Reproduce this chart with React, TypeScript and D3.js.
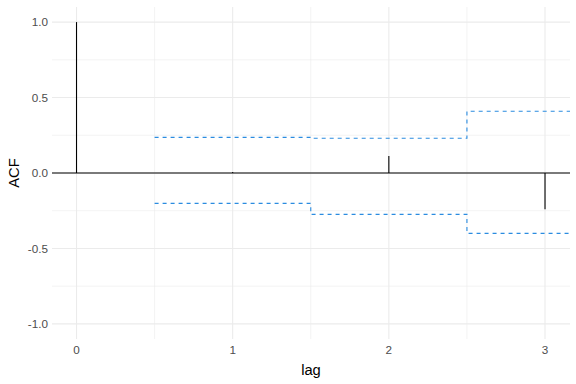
import React from "react";
import * as d3 from "d3";

const lags = [0, 1, 2, 3];
const acfValues = [1.0, 0.006, 0.113, -0.241];
const bandStarts = [0.5, 1.5, 2.5];
const bandEnds = [1.5, 2.5, 3.16];
const upperBand = [0.236, 0.23, 0.409];
const lowerBand = [-0.201, -0.274, -0.4];
const yTicks = [-1.0, -0.5, 0.0, 0.5, 1.0];
const yMinor = [-0.75, -0.25, 0.25, 0.75];
const xTicks = [0, 1, 2, 3];
const xMinor = [0.5, 1.5, 2.5];

const W = 576;
const H = 384;
const left = 52;
const right = 570;
const top = 7;
const bottom = 339;

export default function App() {
  const x = d3.scaleLinear().domain([-0.157, 3.16]).range([left, right]);
  const y = d3.scaleLinear().domain([-1.1, 1.1]).range([bottom, top]);
  const grid = "#EBEBEB";
  const dashColor = "#2B8CE0";
  const font = "'Liberation Sans', Arial, sans-serif";

  const stepPath = (vals: number[]) => {
    const p = d3.path();
    vals.forEach((v, i) => {
      if (i === 0) p.moveTo(x(bandStarts[i]), y(v));
      else p.lineTo(x(bandStarts[i]), y(v));
      p.lineTo(x(bandEnds[i]), y(v));
    });
    return p.toString();
  };

  return (
    <svg width={W} height={H} style={{ position: "absolute", left: 0, top: 0, background: "#fff" }}>
      <g>
        {yMinor.map((v) => (
          <line key={"ym" + v} x1={left} x2={right} y1={y(v)} y2={y(v)} stroke={grid} strokeWidth={0.6} />
        ))}
        {xMinor.map((v) => (
          <line key={"xm" + v} x1={x(v)} x2={x(v)} y1={top} y2={bottom} stroke={grid} strokeWidth={0.6} />
        ))}
        {yTicks.map((v) => (
          <line key={"yM" + v} x1={left} x2={right} y1={y(v)} y2={y(v)} stroke={grid} strokeWidth={1.1} />
        ))}
        {xTicks.map((v) => (
          <line key={"xM" + v} x1={x(v)} x2={x(v)} y1={top} y2={bottom} stroke={grid} strokeWidth={1.1} />
        ))}
      </g>
      <path d={stepPath(upperBand)} fill="none" stroke={dashColor} strokeWidth={1.1} strokeDasharray="4,4" />
      <path d={stepPath(lowerBand)} fill="none" stroke={dashColor} strokeWidth={1.1} strokeDasharray="4,4" />
      <line x1={left} x2={right} y1={y(0)} y2={y(0)} stroke="#000" strokeWidth={1.1} />
      {lags.map((l, i) => (
        <line key={"s" + l} x1={x(l)} x2={x(l)} y1={y(0)} y2={y(acfValues[i])} stroke="#000" strokeWidth={1.1} />
      ))}
      {yTicks.map((v) => (
        <text key={"yt" + v} x={left - 4} y={y(v)} dy="0.35em" textAnchor="end" fontFamily={font} fontSize={11.7} fill="#4D4D4D">
          {d3.format(".1f")(v).replace("−", "-")}
        </text>
      ))}
      {xTicks.map((v) => (
        <text key={"xt" + v} x={x(v)} y={bottom + 15} textAnchor="middle" fontFamily={font} fontSize={11.7} fill="#4D4D4D">
          {v}
        </text>
      ))}
      <text x={(left + right) / 2} y={375} textAnchor="middle" fontFamily={font} fontSize={14.7} fill="#000">
        lag
      </text>
      <text transform={`translate(19,${(top + bottom) / 2}) rotate(-90)`} textAnchor="middle" fontFamily={font} fontSize={14.7} fill="#000">
        ACF
      </text>
    </svg>
  );
}
